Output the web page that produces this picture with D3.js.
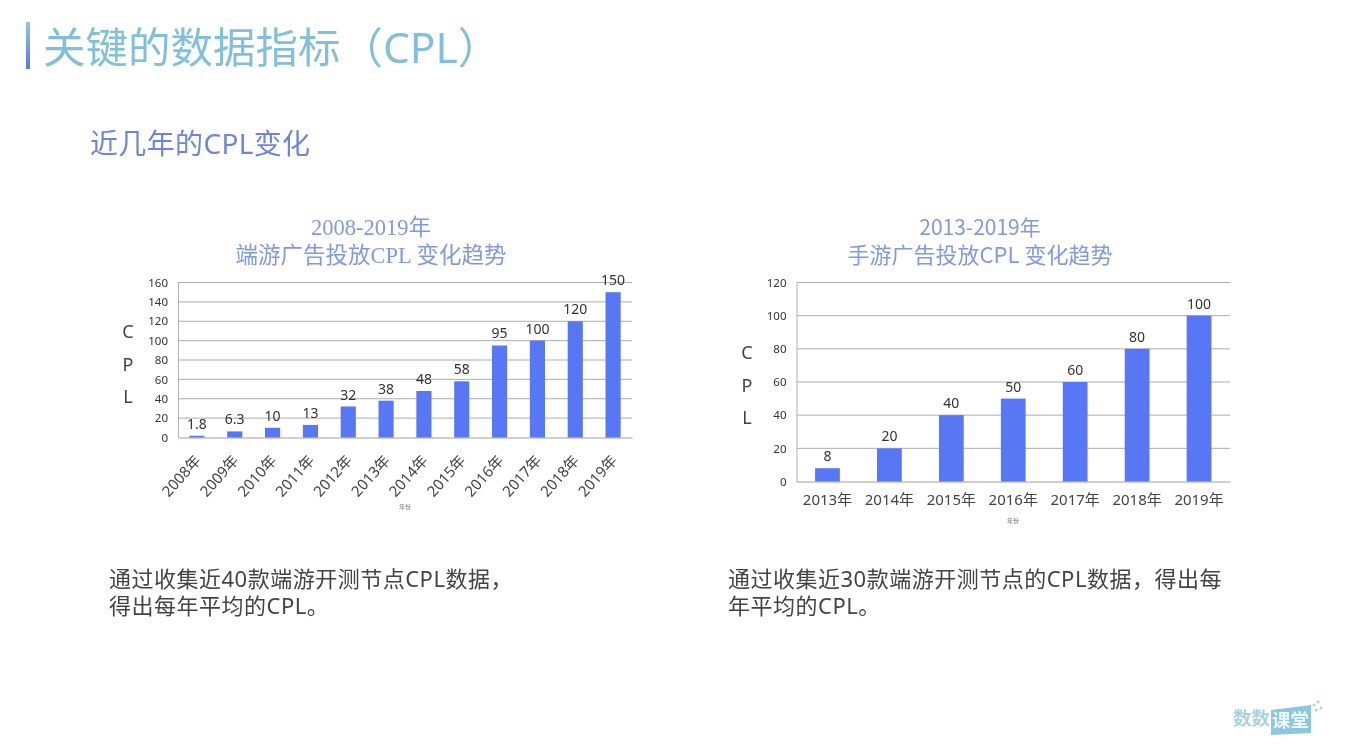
<!DOCTYPE html>
<html>
<head>
<meta charset="utf-8">
<script src="https://cdn.jsdelivr.net/npm/d3@7"></script>
<style>
  body { margin: 0; background: #fff; }
  svg { display: block; filter: blur(0.4px); }
  text { font-family: "Noto Sans", "Noto Sans CJK SC", sans-serif; }
</style>
</head>
<body>
<script>
let pcYears = ["2008年", "2009年", "2010年", "2011年", "2012年", "2013年", "2014年", "2015年", "2016年", "2017年", "2018年", "2019年"];
let pcValues = [1.8, 6.3, 10, 13, 32, 38, 48, 58, 95, 100, 120, 150];
let pcTicks = [0, 20, 40, 60, 80, 100, 120, 140, 160];

let mobileYears = ["2013年", "2014年", "2015年", "2016年", "2017年", "2018年", "2019年"];
let mobileValues = [8, 20, 40, 50, 60, 80, 100];
let mobileTicks = [0, 20, 40, 60, 80, 100, 120];

let pageTitle = "关键的数据指标（CPL）";
let subTitle = "近几年的CPL变化";
let pcTitle = ["2008-2019年", "端游广告投放CPL 变化趋势"];
let mobileTitle = ["2013-2019年", "手游广告投放CPL 变化趋势"];
let pcNote = ["通过收集近40款端游开测节点CPL数据，", "得出每年平均的CPL。"];
let mobileNote = ["通过收集近30款端游开测节点的CPL数据，得出每", "年平均的CPL。"];

let svg = d3.select("body").append("svg")
    .attr("width", 1346)
    .attr("height", 752);

let grad = svg.append("defs").append("linearGradient")
    .attr("id", "barGrad")
    .attr("x1", 0).attr("y1", 0).attr("x2", 0).attr("y2", 1);
grad.append("stop").attr("offset", "0%").attr("stop-color", "#8fc4ea");
grad.append("stop").attr("offset", "100%").attr("stop-color", "#5a78e8");

// page header
svg.append("rect")
    .attr("x", 26).attr("y", 22)
    .attr("width", 4).attr("height", 47)
    .attr("fill", "url(#barGrad)");

svg.append("text")
    .attr("x", 43).attr("y", 63)
    .attr("font-size", 42.5)
    .attr("fill", "#80c0dd")
    .text(pageTitle);

svg.append("text")
    .attr("x", 90).attr("y", 154)
    .attr("font-size", 28)
    .style("letter-spacing", "0.35px")
    .attr("fill", "#6c85e0")
    .text(subTitle);

function drawChart(opt) {
    let x = d3.scaleBand()
        .domain(opt.years)
        .range([opt.left, opt.right])
        .paddingInner(opt.barPad)
        .paddingOuter(opt.barPad / 2);

    let y = d3.scaleLinear()
        .domain([0, opt.ticks[opt.ticks.length - 1]])
        .range([opt.bottom, opt.top]);

    let g = svg.append("g");

    // gridlines
    g.selectAll(".grid")
        .data(opt.ticks.slice(1))
        .enter()
        .append("line")
        .attr("x1", opt.left)
        .attr("x2", opt.right)
        .attr("y1", d => y(d))
        .attr("y2", d => y(d))
        .attr("stroke", "#adadad")
        .attr("stroke-width", 1);

    let yAxis = g.append("g")
        .attr("transform", "translate(" + opt.left + ",0)")
        .call(d3.axisLeft(y).tickValues(opt.ticks).tickSize(0).tickPadding(10));
    yAxis.select(".domain").attr("stroke", "#b4b4b4");
    yAxis.selectAll("text")
        .attr("font-size", 11.5)
        .attr("fill", "#333");

    let xAxis = g.append("g")
        .attr("transform", "translate(0," + opt.bottom + ")")
        .call(d3.axisBottom(x).tickSize(0).tickPadding(13));
    xAxis.select(".domain").attr("stroke", "#a0a0a0");
    xAxis.selectAll("text")
        .attr("font-size", opt.xFont)
        .attr("fill", "#444");
    if (opt.rotate) {
        // rotate around the tick itself, then push the label under the axis
        xAxis.selectAll("text")
            .attr("text-anchor", "end")
            .attr("y", 0)
            .attr("dy", "0.35em")
            .attr("transform", "translate(1,20) rotate(-48)");
    }

    g.selectAll(".bar")
        .data(opt.values)
        .enter()
        .append("rect")
        .attr("x", (d, i) => x(opt.years[i]))
        .attr("y", d => y(d))
        .attr("width", x.bandwidth())
        .attr("height", d => opt.bottom - y(d))
        .attr("fill", "#5877f5");

    g.selectAll(".val")
        .data(opt.values)
        .enter()
        .append("text")
        .attr("x", (d, i) => x(opt.years[i]) + x.bandwidth() / 2)
        .attr("y", d => y(d) - 7)
        .attr("text-anchor", "middle")
        .attr("font-size", 14)
        .attr("fill", "#333")
        .text(d => d);

    // vertical CPL label
    g.selectAll(".cpl")
        .data(["C", "P", "L"])
        .enter()
        .append("text")
        .attr("x", opt.cplX)
        .attr("y", (d, i) => opt.cplY + i * 32.5)
        .attr("text-anchor", "middle")
        .attr("font-size", 18)
        .attr("fill", "#444")
        .text(d => d);

    // tiny axis caption
    g.append("text")
        .attr("x", opt.captionX)
        .attr("y", opt.captionY)
        .attr("text-anchor", "middle")
        .attr("font-size", 6)
        .attr("fill", "#777")
        .text("年份");

    // chart title, style() because the css rule beats a font-family attribute
    g.selectAll(".title")
        .data(opt.title)
        .enter()
        .append("text")
        .attr("x", opt.titleX)
        .attr("y", (d, i) => 235 + i * 28)
        .attr("text-anchor", "middle")
        .attr("font-size", (d, i) => opt.titleSizes[i])
        .style("font-family", opt.titleFont)
        .attr("fill", "#8098ea")
        .text(d => d);

    // note under the chart
    g.selectAll(".note")
        .data(opt.note)
        .enter()
        .append("text")
        .attr("x", opt.noteX)
        .attr("y", (d, i) => 587 + i * 27)
        .attr("font-size", 22)
        .style("letter-spacing", "0.5px")
        .attr("fill", "#444")
        .text(d => d);
}

drawChart({
    years: pcYears, values: pcValues, ticks: pcTicks,
    left: 178, right: 632, top: 282.5, bottom: 437.5,
    barPad: 0.6, rotate: true, xFont: 15,
    cplX: 128, cplY: 338, captionX: 405, captionY: 509,
    title: pcTitle, titleX: 371, titleSizes: [22.5, 22.5],
    titleFont: '"Liberation Serif", "Noto Sans CJK SC", serif',
    note: pcNote, noteX: 109
});

drawChart({
    years: mobileYears, values: mobileValues, ticks: mobileTicks,
    left: 796.5, right: 1230, top: 282.5, bottom: 481.5,
    barPad: 0.6, rotate: false, xFont: 15,
    cplX: 747, cplY: 359, captionX: 1013, captionY: 523,
    title: mobileTitle, titleX: 980, titleSizes: [21, 22],
    titleFont: '"Noto Sans CJK SC", sans-serif',
    note: mobileNote, noteX: 728
});

// logo in the corner
svg.append("text")
    .attr("x", 1233).attr("y", 725)
    .attr("font-size", 18.5)
    .attr("font-weight", 700)
    .attr("fill", "#a5d3e8")
    .text("数数");

svg.append("path")
    .attr("d", "M1271 710 L1311 705 L1311 733 L1271 735 Z")
    .attr("fill", "#8cc6e0");

svg.append("text")
    .attr("x", 1272).attr("y", 727)
    .attr("font-size", 18.5)
    .attr("font-weight", 700)
    .attr("fill", "#eef8fc")
    .text("课堂");

svg.selectAll(".spark")
    .data([[1314, 705], [1318, 702], [1321, 708], [1316, 710]])
    .enter()
    .append("circle")
    .attr("cx", d => d[0])
    .attr("cy", d => d[1])
    .attr("r", 1.5)
    .attr("fill", "#a5d3e8");
</script>
</body>
</html>
